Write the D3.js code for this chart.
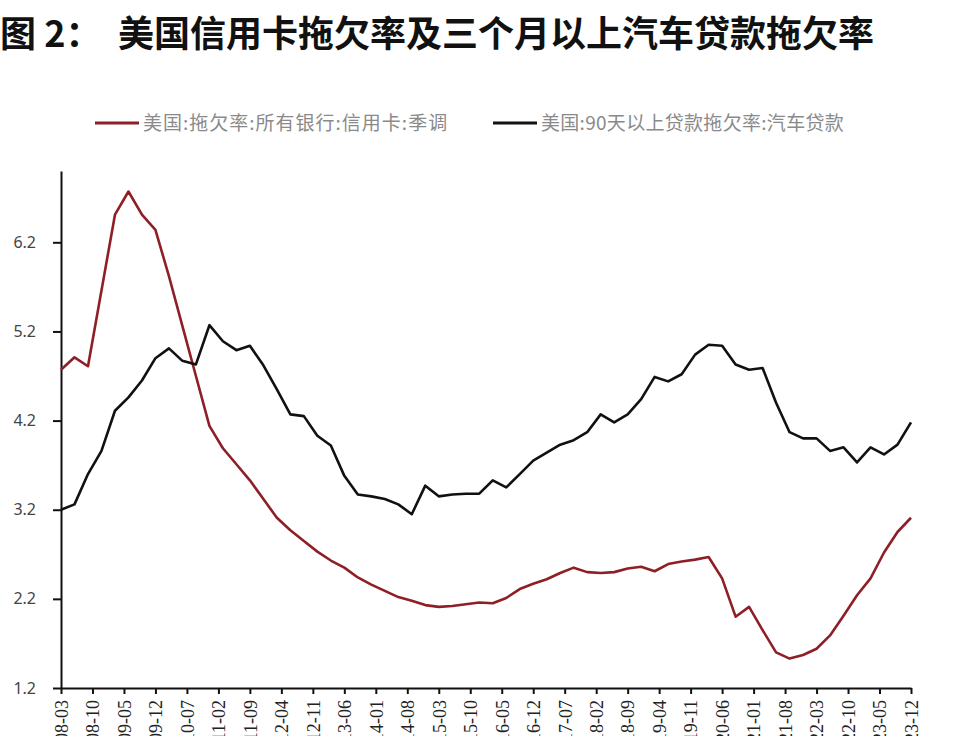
<!DOCTYPE html>
<html>
<head>
<meta charset="utf-8">
<script src="https://cdn.jsdelivr.net/npm/d3@7"></script>
<style>
  body { margin: 0; background: #fff; }
  svg { display: block; }
  .title { font-family: "Noto Sans CJK SC", sans-serif; font-weight: 700; font-size: 36px; fill: #111; }
  .legend text { font-family: "Noto Sans CJK SC", sans-serif; font-size: 19px; fill: #8a8a8a; }
  .y-axis text { font-family: "Noto Sans", sans-serif; font-size: 16px; fill: #444; }
  .x-axis text { font-family: "Liberation Serif", serif; font-size: 18px; fill: #222; }
  .axis path, .axis line { stroke: #111; stroke-width: 2; }
</style>
</head>
<body>
<svg id="chart" width="960" height="736"></svg>
<script>
// quarterly observations, 2008-03 .. 2023-12
const quarters = [
  "2008-03","2008-06","2008-09","2008-12","2009-03","2009-06","2009-09","2009-12",
  "2010-03","2010-06","2010-09","2010-12","2011-03","2011-06","2011-09","2011-12",
  "2012-03","2012-06","2012-09","2012-12","2013-03","2013-06","2013-09","2013-12",
  "2014-03","2014-06","2014-09","2014-12","2015-03","2015-06","2015-09","2015-12",
  "2016-03","2016-06","2016-09","2016-12","2017-03","2017-06","2017-09","2017-12",
  "2018-03","2018-06","2018-09","2018-12","2019-03","2019-06","2019-09","2019-12",
  "2020-03","2020-06","2020-09","2020-12","2021-03","2021-06","2021-09","2021-12",
  "2022-03","2022-06","2022-09","2022-12","2023-03","2023-06","2023-09","2023-12"
];

// 美国:拖欠率:所有银行:信用卡:季调
const creditCard = [
  4.77, 4.91, 4.81, 5.66, 6.51, 6.77, 6.51, 6.34,
  5.82, 5.26, 4.70, 4.14, 3.89, 3.71, 3.53, 3.32,
  3.11, 2.97, 2.85, 2.73, 2.63, 2.55, 2.44, 2.36,
  2.29, 2.22, 2.18, 2.13, 2.11, 2.12, 2.14, 2.16,
  2.15, 2.21, 2.31, 2.37, 2.42, 2.49, 2.55, 2.50,
  2.49, 2.50, 2.54, 2.56, 2.51, 2.59, 2.62, 2.64,
  2.67, 2.43, 2.00, 2.11, 1.85, 1.60, 1.53, 1.57,
  1.64, 1.79, 2.01, 2.24, 2.43, 2.72, 2.95, 3.11
];

// 美国:90天以上贷款拖欠率:汽车贷款
const autoLoan = [
  3.20, 3.26, 3.60, 3.86, 4.31, 4.46, 4.65, 4.90,
  5.01, 4.87, 4.83, 5.27, 5.09, 4.99, 5.04, 4.82,
  4.55, 4.27, 4.25, 4.03, 3.92, 3.58, 3.37, 3.35,
  3.32, 3.26, 3.15, 3.47, 3.35, 3.37, 3.38, 3.38,
  3.53, 3.45, 3.60, 3.75, 3.84, 3.93, 3.98, 4.07,
  4.27, 4.18, 4.27, 4.44, 4.69, 4.64, 4.72, 4.94,
  5.05, 5.04, 4.83, 4.77, 4.79, 4.40, 4.07, 4.00,
  4.00, 3.86, 3.90, 3.73, 3.90, 3.82, 3.93, 4.18
];

const xTickLabels = [
  "2008-03","2008-10","2009-05","2009-12","2010-07","2011-02","2011-09",
  "2012-04","2012-11","2013-06","2014-01","2014-08","2015-03","2015-10",
  "2016-05","2016-12","2017-07","2018-02","2018-09","2019-04","2019-11",
  "2020-06","2021-01","2021-08","2022-03","2022-10","2023-05","2023-12"
];
const yTicks = [1.2, 2.2, 3.2, 4.2, 5.2, 6.2];

const seriesNames = ["美国:拖欠率:所有银行:信用卡:季调", "美国:90天以上贷款拖欠率:汽车贷款"];
const seriesColors = ["#8e1f27", "#111111"];

const svg = d3.select("#chart");
const parse = d3.timeParse("%Y-%m");

// month index keeps the 7-month ticks evenly spaced
const monthIndex = (s) => {
  const d = parse(s);
  return (d.getFullYear() - 2008) * 12 + d.getMonth() - 2;
};

const x = d3.scaleLinear()
  .domain([0, monthIndex("2023-12")])
  .range([61, 911]);

const y = d3.scaleLinear()
  .domain([1.2, 7.0])
  .range([688, 171]);

// title
svg.append("text").attr("class", "title").attr("x", 0).attr("y", 47).text("图 2：");
svg.append("text").attr("class", "title").attr("x", 118).attr("y", 47)
  .text("美国信用卡拖欠率及三个月以上汽车贷款拖欠率");

// legend
const legend = svg.append("g").attr("class", "legend");
const legendPos = [{ x: 95, tx: 143 }, { x: 493, tx: 541 }];
seriesNames.forEach((name, i) => {
  legend.append("line")
    .attr("x1", legendPos[i].x).attr("x2", legendPos[i].x + 44)
    .attr("y1", 123).attr("y2", 123)
    .attr("stroke", seriesColors[i]).attr("stroke-width", 3);
  legend.append("text")
    .attr("x", legendPos[i].tx).attr("y", 129.5)
    .attr("letter-spacing", i === 0 ? 1.0 : 0.3)
    .text(name);
});

// axes
svg.append("g")
  .attr("class", "axis y-axis")
  .attr("transform", "translate(61,0)")
  .call(d3.axisLeft(y).tickValues(yTicks).tickSize(8).tickSizeOuter(0).tickPadding(17)
    .tickFormat(d3.format(".1f")));

svg.append("g")
  .attr("class", "axis x-axis")
  .attr("transform", "translate(0,688)")
  .call(d3.axisBottom(x).tickValues(xTickLabels.map(monthIndex)).tickSize(6).tickSizeOuter(0)
    .tickFormat((d, i) => xTickLabels[i]))
  .selectAll("text")
  .attr("transform", "rotate(-90)")
  .attr("text-anchor", "end")
  .attr("x", -12)
  .attr("y", 0)
  .attr("dy", "0.35em");

// lines
const line = d3.line()
  .x((d, i) => x(monthIndex(quarters[i])))
  .y((d) => y(d));

[creditCard, autoLoan].forEach((values, i) => {
  svg.append("path")
    .datum(values)
    .attr("fill", "none")
    .attr("stroke", seriesColors[i])
    .attr("stroke-width", 2.6)
    .attr("stroke-linejoin", "round")
    .attr("d", line);
});
</script>
</body>
</html>
